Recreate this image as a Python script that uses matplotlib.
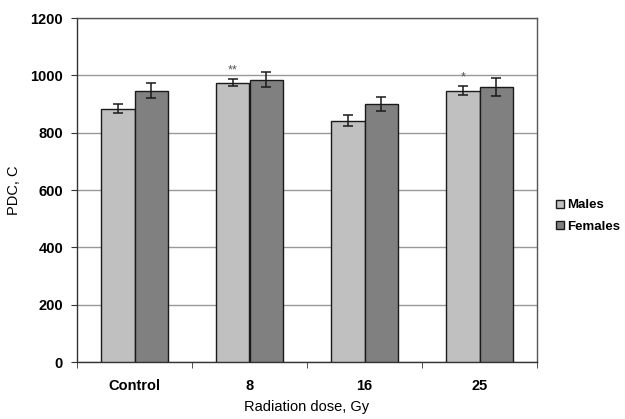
import matplotlib
matplotlib.use("Agg")
import matplotlib.pyplot as plt
import numpy as np
from matplotlib.patches import Patch

plt.rcParams['font.family'] = ['Liberation Sans', 'DejaVu Sans']

categories = ["Control", "8", "16", "25"]
males = [884, 975, 842, 947]
males_err = [16, 13, 20, 16]
females = [947, 985, 900, 959]
females_err = [25, 27, 25, 30]
annotations = ["", "**", "", "*"]

fig = plt.figure(figsize=(6.25, 4.19), dpi=100)
ax = fig.add_axes([77/625, 1-362/419, 460/625, 344/419])

x = np.arange(len(categories))
w = 0.29
ax.bar(x - w/2, males, w, color="#c0c0c0", edgecolor="#1a1a1a", linewidth=1.0,
       yerr=males_err, error_kw=dict(ecolor="#1a1a1a", elinewidth=1.1, capsize=3.5, capthick=1.1),
       zorder=3, label="Males")
ax.bar(x + w/2, females, w, color="#808080", edgecolor="#1a1a1a", linewidth=1.0,
       yerr=females_err, error_kw=dict(ecolor="#1a1a1a", elinewidth=1.1, capsize=3.5, capthick=1.1),
       zorder=3, label="Females")

for i, a in enumerate(annotations):
    if a:
        ax.text(x[i] - w/2, males[i] + males_err[i] + 8, a, ha="center", va="bottom",
                fontsize=9, color="#555555")

ax.set_xlim(-0.5, len(categories) - 0.5)
ax.set_ylim(0, 1200)
ax.set_yticks([0, 200, 400, 600, 800, 1000, 1200])
ax.yaxis.grid(True, color="#999999", linewidth=1.0, zorder=0)
ax.set_axisbelow(True)

ax.set_xticks(x)
ax.set_xticklabels(categories, fontsize=10.5, fontweight="bold")
ax.tick_params(axis="x", length=0, pad=12)
ax.set_xticks(np.arange(len(categories) + 1) - 0.5, minor=True)
ax.tick_params(axis="x", which="minor", length=4, direction="out", color="#333333")
for lbl in ax.get_yticklabels():
    lbl.set_fontweight("bold")
ax.tick_params(axis="y", labelsize=10.5, length=4, direction="out", color="#333333", pad=6)

for s in ["top", "right"]:
    ax.spines[s].set_color("#555555")
    ax.spines[s].set_linewidth(1.0)
for s in ["left", "bottom"]:
    ax.spines[s].set_color("#333333")
    ax.spines[s].set_linewidth(1.0)

ax.set_xlabel("Radiation dose, Gy", fontsize=10.5, labelpad=5)
ax.set_ylabel("PDC, C", fontsize=10.5, labelpad=7)

handles = [Patch(facecolor="#c0c0c0", edgecolor="#1a1a1a", label="Males"),
           Patch(facecolor="#808080", edgecolor="#1a1a1a", label="Females")]
fig.legend(handles=handles, loc="center left", bbox_to_anchor=(549/625, 1-216/419),
           frameon=False, borderpad=0, prop=dict(weight="bold", size=9.5),
           handlelength=0.6, handleheight=0.6, handletextpad=0.25, labelspacing=0.7)

fig.savefig("out.png", dpi=100)
